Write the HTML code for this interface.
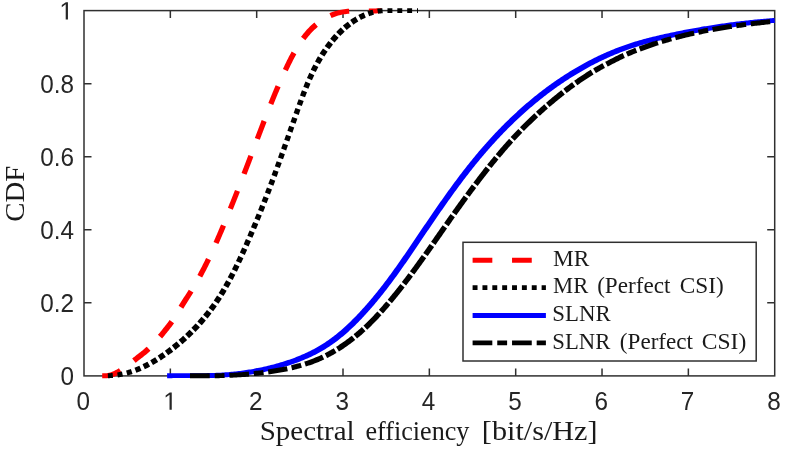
<!DOCTYPE html>
<html lang="en"><head><meta charset="utf-8"><title>CDF of spectral efficiency</title>
<style>
html,body{margin:0;padding:0;background:#fff;}
body{width:789px;height:455px;overflow:hidden;}
svg{display:block;}
.t{font-family:"Liberation Sans",sans-serif;font-size:24.3px;fill:#262626;}
.s{font-family:"Liberation Serif",serif;fill:#1a1a1a;}
.ax{stroke:#303030;stroke-width:1.5;fill:none;}
.c{fill:none;stroke-width:4.93;stroke-linejoin:round;stroke-linecap:butt;}
</style></head><body><div style="will-change:transform;width:789px;height:455px">
<svg width="789" height="455" viewBox="0 0 789 455">
<defs><filter id="noop" filterUnits="userSpaceOnUse" x="0" y="0" width="789" height="455"><feOffset dx="0" dy="0"/></filter></defs>
<rect x="0" y="0" width="789" height="455" fill="#ffffff"/>
<rect class="ax" x="84.0" y="10.6" width="690.70" height="365.30"/>
<path class="ax" d="M170.34 375.9 V368.40 M170.34 10.6 V18.10 M256.68 375.9 V368.40 M256.68 10.6 V18.10 M343.01 375.9 V368.40 M343.01 10.6 V18.10 M429.35 375.9 V368.40 M429.35 10.6 V18.10 M515.69 375.9 V368.40 M515.69 10.6 V18.10 M602.03 375.9 V368.40 M602.03 10.6 V18.10 M688.36 375.9 V368.40 M688.36 10.6 V18.10 M84.0 302.84 H91.50 M774.7 302.84 H767.20 M84.0 229.78 H91.50 M774.7 229.78 H767.20 M84.0 156.72 H91.50 M774.7 156.72 H767.20 M84.0 83.66 H91.50 M774.7 83.66 H767.20"/>
<g filter="url(#noop)">
<text class="t" transform="translate(83.20 410.35) scale(1 1.035)" text-anchor="middle">0</text>
<path fill="#262626" d="M169.53 409.85 L169.53 394.71 L165.64 397.48 L165.64 395.40 L169.72 392.60 L171.75 392.60 L171.75 409.85Z"/>
<text class="t" transform="translate(255.88 410.35) scale(1 1.035)" text-anchor="middle">2</text>
<text class="t" transform="translate(342.21 410.35) scale(1 1.035)" text-anchor="middle">3</text>
<text class="t" transform="translate(428.55 410.35) scale(1 1.035)" text-anchor="middle">4</text>
<text class="t" transform="translate(514.89 410.35) scale(1 1.035)" text-anchor="middle">5</text>
<text class="t" transform="translate(601.23 410.35) scale(1 1.035)" text-anchor="middle">6</text>
<text class="t" transform="translate(687.56 410.35) scale(1 1.035)" text-anchor="middle">7</text>
<text class="t" transform="translate(773.90 410.35) scale(1 1.035)" text-anchor="middle">8</text>
<text class="t" transform="translate(74.1 384.75) scale(1 1.035)" text-anchor="end">0</text>
<text class="t" transform="translate(74.1 311.69) scale(1 1.035)" text-anchor="end">0.2</text>
<text class="t" transform="translate(74.1 238.63) scale(1 1.035)" text-anchor="end">0.4</text>
<text class="t" transform="translate(74.1 165.57) scale(1 1.035)" text-anchor="end">0.6</text>
<text class="t" transform="translate(74.1 92.51) scale(1 1.035)" text-anchor="end">0.8</text>
<path fill="#262626" d="M65.71 19.60 L65.71 4.32 L61.79 7.13 L61.79 5.03 L65.90 2.20 L67.95 2.20 L67.95 19.60Z"/>
<text class="s" font-size="26.6px" x="259.72" y="440.4" textLength="94.96" lengthAdjust="spacingAndGlyphs">Spectral</text>
<text class="s" font-size="26.6px" x="365.46" y="440.4" textLength="103.95" lengthAdjust="spacingAndGlyphs">efficiency</text>
<text class="s" font-size="26.6px" x="481.83" y="440.4" textLength="115.76" lengthAdjust="spacingAndGlyphs">[bit/s/Hz]</text>
<g transform="translate(24.0 0) rotate(-90)"><text class="s" font-size="26.6px" x="-221.85" y="0" textLength="56.07" lengthAdjust="spacingAndGlyphs">CDF</text></g>
</g>
<path fill="#ff0000" d="M102.20 378.16 L103.68 378.16 L105.16 378.16 L106.64 378.16 L108.49 378.09 L110.13 377.82 L111.73 377.45 L113.29 376.98 L114.81 376.43 L116.29 375.81 L117.72 375.13 L119.11 374.41 L120.46 373.65 L121.79 372.85 L118.92 368.23 L117.71 368.97 L116.50 369.68 L115.27 370.35 L114.04 370.97 L112.80 371.54 L111.55 372.05 L110.30 372.48 L109.03 372.84 L107.75 373.12 L106.64 373.23 L105.16 373.23 L103.68 373.23 L102.20 373.23Z M135.58 362.77 L136.72 361.88 L137.87 361.00 L139.02 360.11 L140.18 359.21 L141.34 358.32 L142.50 357.41 L143.65 356.50 L144.81 355.58 L145.96 354.65 L147.11 353.70 L148.25 352.74 L149.37 351.75 L150.49 350.75 L146.77 346.67 L145.72 347.62 L144.65 348.55 L143.56 349.47 L142.46 350.39 L141.35 351.29 L140.23 352.19 L139.10 353.08 L137.96 353.97 L136.81 354.86 L135.66 355.75 L134.51 356.64 L133.35 357.54 L132.19 358.44Z M162.14 338.40 L163.09 337.27 L164.03 336.13 L164.97 334.98 L165.89 333.84 L166.82 332.69 L167.73 331.54 L168.65 330.39 L169.56 329.23 L170.47 328.07 L171.37 326.89 L172.27 325.71 L173.16 324.51 L174.03 323.30 L169.58 320.10 L168.74 321.25 L167.88 322.40 L167.01 323.55 L166.12 324.69 L165.23 325.83 L164.33 326.97 L163.42 328.11 L162.52 329.25 L161.60 330.38 L160.69 331.51 L159.77 332.63 L158.85 333.74 L157.92 334.85Z M183.26 308.68 L184.02 307.44 L184.78 306.21 L185.55 304.98 L186.33 303.74 L187.11 302.51 L187.90 301.28 L188.68 300.05 L189.47 298.81 L190.26 297.58 L191.05 296.33 L191.84 295.09 L192.63 293.84 L193.41 292.59 L188.79 289.72 L188.01 290.95 L187.24 292.18 L186.46 293.41 L185.67 294.64 L184.88 295.88 L184.09 297.11 L183.30 298.35 L182.51 299.59 L181.73 300.83 L180.94 302.08 L180.16 303.34 L179.38 304.60 L178.61 305.86Z M202.15 277.50 L202.86 276.20 L203.56 274.89 L204.25 273.58 L204.94 272.27 L205.62 270.95 L206.30 269.63 L206.98 268.31 L207.65 266.99 L208.31 265.67 L208.97 264.34 L209.62 263.01 L210.27 261.68 L210.92 260.35 L206.10 258.02 L205.46 259.34 L204.82 260.65 L204.17 261.96 L203.52 263.27 L202.86 264.57 L202.20 265.88 L201.53 267.18 L200.85 268.48 L200.18 269.77 L199.49 271.06 L198.81 272.35 L198.11 273.64 L197.42 274.92Z M218.39 244.12 L218.99 242.77 L219.59 241.41 L220.18 240.05 L220.77 238.69 L221.36 237.33 L221.94 235.97 L222.52 234.61 L223.10 233.24 L223.68 231.88 L224.26 230.51 L224.83 229.15 L225.40 227.78 L225.97 226.42 L221.09 224.38 L220.52 225.74 L219.95 227.10 L219.38 228.46 L218.80 229.81 L218.23 231.17 L217.65 232.52 L217.07 233.88 L216.49 235.23 L215.90 236.58 L215.31 237.93 L214.72 239.28 L214.13 240.63 L213.54 241.97Z M232.82 209.70 L233.37 208.33 L233.92 206.95 L234.47 205.58 L235.02 204.20 L235.57 202.83 L236.12 201.45 L236.66 200.07 L237.21 198.70 L237.75 197.32 L238.30 195.94 L238.84 194.56 L239.38 193.18 L239.92 191.80 L235.02 189.88 L234.48 191.26 L233.94 192.63 L233.39 194.01 L232.85 195.38 L232.31 196.76 L231.76 198.13 L231.22 199.50 L230.67 200.88 L230.13 202.25 L229.58 203.62 L229.03 204.99 L228.48 206.36 L227.92 207.73Z M246.48 174.87 L247.01 173.48 L247.54 172.10 L248.07 170.71 L248.60 169.33 L249.13 167.95 L249.65 166.56 L250.18 165.18 L250.71 163.79 L251.24 162.41 L251.76 161.03 L252.29 159.64 L252.81 158.26 L253.34 156.87 L248.43 155.01 L247.90 156.39 L247.38 157.78 L246.85 159.16 L246.32 160.54 L245.80 161.92 L245.27 163.31 L244.74 164.69 L244.22 166.07 L243.69 167.45 L243.16 168.84 L242.63 170.22 L242.10 171.60 L241.57 172.98Z M259.78 139.85 L260.31 138.47 L260.83 137.08 L261.35 135.70 L261.88 134.32 L262.40 132.93 L262.93 131.55 L263.45 130.17 L263.98 128.78 L264.51 127.40 L265.03 126.02 L265.56 124.64 L266.09 123.26 L266.62 121.88 L261.71 119.99 L261.18 121.37 L260.65 122.76 L260.12 124.14 L259.59 125.53 L259.07 126.91 L258.54 128.30 L258.02 129.68 L257.49 131.07 L256.97 132.45 L256.44 133.84 L255.92 135.23 L255.39 136.61 L254.87 137.99Z M273.22 105.03 L273.77 103.67 L274.32 102.30 L274.88 100.93 L275.43 99.57 L275.99 98.21 L276.55 96.84 L277.11 95.48 L277.68 94.12 L278.25 92.76 L278.82 91.41 L279.39 90.05 L279.97 88.70 L280.55 87.34 L275.68 85.25 L275.10 86.62 L274.52 87.99 L273.94 89.35 L273.37 90.72 L272.80 92.09 L272.23 93.46 L271.67 94.83 L271.10 96.20 L270.54 97.57 L269.98 98.95 L269.43 100.32 L268.88 101.70 L268.32 103.07Z M287.81 71.13 L288.44 69.80 L289.06 68.48 L289.69 67.16 L290.33 65.84 L290.97 64.53 L291.62 63.22 L292.27 61.91 L292.93 60.62 L293.60 59.32 L294.27 58.03 L294.96 56.75 L295.65 55.47 L296.35 54.21 L291.63 51.58 L290.92 52.89 L290.21 54.21 L289.51 55.53 L288.82 56.85 L288.15 58.18 L287.48 59.51 L286.82 60.84 L286.16 62.18 L285.51 63.51 L284.87 64.85 L284.24 66.19 L283.61 67.53 L282.98 68.88Z M305.40 40.13 L306.25 39.00 L307.13 37.89 L308.02 36.79 L308.93 35.71 L309.85 34.64 L310.79 33.60 L311.75 32.56 L312.73 31.55 L313.72 30.56 L314.73 29.59 L315.76 28.64 L316.81 27.71 L317.87 26.80 L314.35 22.55 L313.19 23.53 L312.06 24.54 L310.94 25.56 L309.85 26.61 L308.78 27.68 L307.74 28.77 L306.71 29.87 L305.71 31.00 L304.72 32.14 L303.76 33.29 L302.82 34.46 L301.90 35.65 L300.99 36.84Z M331.58 18.08 L332.88 17.51 L334.18 16.98 L335.50 16.48 L336.83 16.03 L338.18 15.61 L339.53 15.23 L340.90 14.90 L342.28 14.60 L343.67 14.35 L345.07 14.14 L346.49 13.96 L347.91 13.81 L349.35 13.70 L349.01 8.75 L347.48 8.86 L345.95 9.00 L344.42 9.17 L342.89 9.38 L341.35 9.63 L339.82 9.92 L338.29 10.26 L336.78 10.64 L335.28 11.07 L333.79 11.55 L332.32 12.07 L330.87 12.62 L329.43 13.22Z M368.86 13.45 L370.26 13.45 L371.65 13.45 L373.05 13.45 L374.48 13.45 L375.98 13.40 L377.41 13.31 L378.85 13.20 L380.09 13.07 L381.40 13.06 L381.40 8.13 L379.92 8.13 L378.39 8.24 L377.04 8.36 L375.70 8.45 L374.41 8.52 L373.05 8.52 L371.65 8.52 L370.26 8.52 L368.86 8.52Z"/>
<path fill="#000000" d="M107.95 378.17 L109.22 378.14 L110.49 378.09 L111.76 378.03 L113.03 377.94 L112.62 372.96 L111.43 373.06 L110.24 373.14 L109.05 373.20 L107.85 373.23Z M117.92 377.41 L119.20 377.23 L120.47 377.02 L121.75 376.79 L123.01 376.55 L121.95 371.50 L120.76 371.75 L119.57 371.99 L118.38 372.20 L117.18 372.40Z M127.41 375.54 L128.70 375.20 L129.99 374.84 L131.28 374.46 L132.56 374.06 L130.89 368.99 L129.69 369.38 L128.48 369.77 L127.27 370.13 L126.06 370.47Z M136.38 372.75 L137.70 372.26 L139.00 371.75 L140.30 371.23 L141.59 370.69 L139.39 365.65 L138.17 366.18 L136.95 366.70 L135.72 367.20 L134.48 367.68Z M144.90 369.20 L146.22 368.58 L147.52 367.94 L148.82 367.29 L150.11 366.62 L147.47 361.67 L146.25 362.32 L145.01 362.96 L143.77 363.58 L142.53 364.19Z M153.02 365.04 L154.32 364.30 L155.62 363.55 L156.90 362.79 L158.18 362.01 L155.18 357.17 L153.96 357.93 L152.73 358.68 L151.49 359.41 L150.25 360.13Z M160.78 360.38 L161.81 359.72 L162.83 359.05 L163.84 358.37 L164.86 357.68 L165.86 356.99 L162.58 352.28 L161.61 352.95 L160.63 353.62 L159.65 354.28 L158.67 354.93 L157.68 355.58Z M168.24 355.32 L169.24 354.59 L170.24 353.87 L171.24 353.13 L172.23 352.39 L173.21 351.64 L169.70 347.05 L168.74 347.78 L167.78 348.50 L166.82 349.22 L165.85 349.93 L164.88 350.64Z M175.43 349.93 L176.41 349.15 L177.39 348.37 L178.36 347.59 L179.33 346.80 L180.29 346.00 L176.57 341.54 L175.64 342.32 L174.70 343.09 L173.75 343.86 L172.81 344.62 L171.85 345.37Z M182.38 344.24 L183.34 343.41 L184.29 342.58 L185.23 341.75 L186.17 340.91 L187.11 340.06 L183.18 335.76 L182.28 336.58 L181.36 337.40 L180.45 338.21 L179.52 339.02 L178.60 339.82Z M189.09 338.24 L190.01 337.37 L190.92 336.50 L191.84 335.62 L192.74 334.73 L193.64 333.84 L189.53 329.71 L188.65 330.58 L187.77 331.44 L186.89 332.29 L186.00 333.14 L185.10 333.98Z M195.53 331.94 L196.41 331.03 L197.29 330.12 L198.16 329.20 L199.03 328.27 L199.89 327.34 L195.60 323.40 L194.77 324.30 L193.92 325.20 L193.08 326.09 L192.22 326.98 L191.37 327.86Z M201.71 325.34 L202.55 324.39 L203.38 323.45 L204.21 322.49 L205.03 321.53 L205.84 320.57 L201.40 316.83 L200.60 317.76 L199.80 318.69 L199.00 319.62 L198.19 320.54 L197.37 321.45Z M207.60 318.44 L208.39 317.46 L209.18 316.49 L209.96 315.50 L210.73 314.51 L211.49 313.52 L206.90 310.00 L206.16 310.96 L205.40 311.92 L204.65 312.87 L203.88 313.82 L203.11 314.76Z M213.21 311.24 L213.95 310.24 L214.68 309.24 L215.40 308.23 L216.12 307.22 L216.83 306.21 L212.12 302.91 L211.42 303.90 L210.72 304.88 L210.01 305.85 L209.30 306.82 L208.58 307.79Z M218.51 303.76 L219.19 302.74 L219.87 301.72 L220.54 300.70 L221.20 299.67 L221.86 298.64 L217.05 295.57 L216.40 296.57 L215.75 297.57 L215.09 298.56 L214.43 299.55 L213.76 300.54Z M223.50 296.02 L224.29 294.74 L225.07 293.45 L225.84 292.16 L226.60 290.87 L221.72 287.99 L220.97 289.26 L220.21 290.52 L219.44 291.77 L218.66 293.02Z M228.21 288.08 L228.94 286.79 L229.67 285.50 L230.39 284.20 L231.10 282.90 L226.16 280.20 L225.46 281.47 L224.75 282.74 L224.03 284.01 L223.31 285.27Z M232.68 279.96 L233.36 278.67 L234.03 277.37 L234.70 276.08 L235.37 274.78 L230.40 272.23 L229.74 273.51 L229.07 274.78 L228.40 276.05 L227.72 277.32Z M236.92 271.70 L237.56 270.41 L238.20 269.12 L238.83 267.82 L239.46 266.52 L234.46 264.10 L233.83 265.38 L233.20 266.66 L232.57 267.93 L231.93 269.21Z M240.98 263.33 L241.59 262.04 L242.19 260.75 L242.79 259.46 L243.39 258.16 L238.37 255.84 L237.78 257.13 L237.18 258.40 L236.58 259.68 L235.97 260.96Z M244.89 254.89 L245.47 253.60 L246.05 252.31 L246.63 251.02 L247.20 249.72 L242.17 247.48 L241.60 248.76 L241.02 250.04 L240.44 251.32 L239.86 252.60Z M248.68 246.38 L249.25 245.10 L249.81 243.81 L250.37 242.52 L250.93 241.23 L245.90 239.04 L245.34 240.32 L244.77 241.60 L244.21 242.88 L243.65 244.16Z M252.40 237.85 L252.95 236.56 L253.50 235.27 L254.05 233.98 L254.60 232.70 L249.55 230.55 L249.01 231.83 L248.46 233.11 L247.91 234.39 L247.36 235.67Z M256.05 229.27 L256.59 227.98 L257.13 226.69 L257.67 225.41 L258.20 224.12 L253.15 222.02 L252.62 223.30 L252.08 224.58 L251.54 225.86 L251.00 227.14Z M259.64 220.65 L260.17 219.36 L260.69 218.08 L261.22 216.79 L261.74 215.50 L256.69 213.45 L256.17 214.73 L255.64 216.01 L255.12 217.28 L254.59 218.56Z M263.16 211.98 L263.68 210.70 L264.19 209.42 L264.71 208.13 L265.22 206.85 L260.16 204.83 L259.65 206.11 L259.14 207.39 L258.63 208.67 L258.11 209.95Z M266.63 203.28 L267.13 202.00 L267.63 200.72 L268.14 199.43 L268.63 198.15 L263.57 196.18 L263.08 197.46 L262.57 198.74 L262.07 200.01 L261.57 201.29Z M270.03 194.54 L270.52 193.26 L271.01 191.98 L271.50 190.70 L271.99 189.41 L266.93 187.49 L266.44 188.76 L265.95 190.04 L265.46 191.32 L264.97 192.59Z M273.37 185.77 L273.85 184.49 L274.33 183.20 L274.81 181.92 L275.28 180.64 L270.22 178.76 L269.74 180.03 L269.26 181.31 L268.78 182.58 L268.30 183.86Z M276.65 176.96 L277.12 175.68 L277.59 174.40 L278.05 173.12 L278.52 171.84 L273.45 169.98 L272.99 171.26 L272.52 172.54 L272.05 173.81 L271.58 175.09Z M279.87 168.12 L280.33 166.84 L280.80 165.56 L281.26 164.28 L281.72 163.00 L276.65 161.18 L276.19 162.46 L275.73 163.73 L275.27 165.01 L274.80 166.28Z M283.06 159.26 L283.51 157.99 L283.97 156.71 L284.42 155.43 L284.88 154.15 L279.81 152.35 L279.35 153.63 L278.90 154.90 L278.44 156.18 L277.99 157.45Z M286.21 150.40 L286.66 149.12 L287.11 147.84 L287.56 146.57 L288.01 145.29 L282.94 143.50 L282.49 144.78 L282.04 146.05 L281.59 147.33 L281.14 148.60Z M289.34 141.52 L289.79 140.25 L290.24 138.97 L290.69 137.69 L291.13 136.42 L286.06 134.64 L285.62 135.91 L285.17 137.19 L284.72 138.46 L284.27 139.74Z M292.46 132.65 L292.91 131.37 L293.36 130.10 L293.80 128.82 L294.25 127.55 L289.18 125.76 L288.73 127.04 L288.28 128.31 L287.84 129.59 L287.39 130.86Z M295.58 123.78 L296.03 122.50 L296.48 121.23 L296.93 119.95 L297.38 118.68 L292.30 116.89 L291.85 118.16 L291.41 119.44 L290.96 120.72 L290.51 121.99Z M298.70 114.92 L299.16 113.64 L299.61 112.37 L300.06 111.09 L300.51 109.82 L295.44 108.01 L294.99 109.29 L294.54 110.57 L294.09 111.84 L293.63 113.12Z M301.85 106.08 L302.31 104.81 L302.77 103.54 L303.23 102.26 L303.70 100.99 L298.63 99.14 L298.17 100.42 L297.70 101.70 L297.24 102.98 L296.78 104.26Z M305.06 97.33 L305.54 96.06 L306.03 94.79 L306.51 93.52 L307.01 92.25 L301.95 90.29 L301.45 91.57 L300.96 92.86 L300.48 94.15 L300.00 95.44Z M308.41 88.72 L308.92 87.44 L309.45 86.17 L309.97 84.91 L310.51 83.64 L305.46 81.51 L304.93 82.81 L304.40 84.10 L303.87 85.39 L303.35 86.69Z M311.96 80.29 L312.53 79.01 L313.10 77.74 L313.69 76.48 L314.28 75.22 L309.26 72.87 L308.67 74.17 L308.08 75.47 L307.50 76.77 L306.93 78.08Z M315.79 72.09 L316.42 70.82 L317.06 69.55 L317.71 68.30 L318.37 67.04 L313.41 64.43 L312.74 65.73 L312.08 67.03 L311.43 68.34 L310.79 69.65Z M319.93 64.17 L320.64 62.91 L321.36 61.66 L322.09 60.41 L322.83 59.17 L317.97 56.25 L317.21 57.54 L316.46 58.84 L315.72 60.14 L315.00 61.46Z M324.44 56.57 L325.07 55.58 L325.72 54.59 L326.37 53.60 L327.03 52.62 L327.69 51.65 L322.96 48.40 L322.27 49.42 L321.59 50.44 L320.92 51.47 L320.26 52.51 L319.61 53.55Z M329.34 49.32 L330.05 48.35 L330.76 47.38 L331.49 46.42 L332.22 45.47 L332.96 44.53 L328.41 40.94 L327.64 41.93 L326.88 42.93 L326.13 43.93 L325.39 44.94 L324.66 45.96Z M334.66 42.44 L335.43 41.51 L336.22 40.58 L337.02 39.67 L337.83 38.76 L338.64 37.87 L334.35 33.93 L333.49 34.87 L332.65 35.83 L331.81 36.79 L330.99 37.76 L330.18 38.74Z M340.42 35.98 L341.26 35.11 L342.12 34.25 L342.99 33.41 L343.86 32.57 L344.75 31.74 L340.81 27.45 L339.86 28.33 L338.94 29.21 L338.02 30.11 L337.11 31.02 L336.22 31.94Z M346.67 30.01 L347.58 29.24 L348.49 28.47 L349.42 27.71 L350.35 26.97 L351.29 26.24 L347.82 21.63 L346.80 22.40 L345.80 23.19 L344.81 23.98 L343.83 24.80 L342.86 25.62Z M353.49 24.63 L354.67 23.81 L355.87 23.01 L357.08 22.24 L358.30 21.49 L355.43 16.60 L354.09 17.39 L352.78 18.21 L351.48 19.05 L350.20 19.92Z M360.96 19.97 L362.16 19.34 L363.36 18.73 L364.58 18.15 L365.81 17.60 L363.69 12.55 L362.33 13.12 L360.99 13.72 L359.66 14.35 L358.35 15.01Z M369.16 16.25 L370.34 15.84 L371.53 15.45 L372.72 15.08 L373.92 14.75 L372.65 9.68 L371.32 10.01 L370.00 10.37 L368.69 10.76 L367.39 11.18Z M378.07 13.82 L379.25 13.61 L380.43 13.43 L381.63 13.27 L382.80 13.13 L382.34 8.15 L381.05 8.28 L379.77 8.42 L378.49 8.59 L377.21 8.79Z M387.46 13.06 L388.69 13.06 L389.92 13.06 L391.16 13.06 L392.39 13.06 L392.39 8.13 L391.16 8.13 L389.92 8.13 L388.69 8.13 L387.46 8.13Z M397.32 13.06 L398.55 13.06 L399.78 13.06 L401.02 13.06 L402.25 13.06 L402.25 8.13 L401.02 8.13 L399.78 8.13 L398.55 8.13 L397.32 8.13Z M407.18 13.06 L408.41 13.06 L409.64 13.06 L410.88 13.06 L412.11 13.06 L412.11 8.13 L410.88 8.13 L409.64 8.13 L408.41 8.13 L407.18 8.13Z M417.04 13.06 L418.00 13.06 L418.00 8.13 L417.04 8.13Z"/>
<path fill="#0000ff" d="M167.13 378.17 L168.62 378.15 L170.12 378.14 L171.61 378.13 L173.11 378.12 L174.60 378.12 L176.10 378.12 L177.60 378.12 L179.09 378.12 L180.59 378.12 L182.09 378.12 L183.59 378.12 L185.09 378.12 L186.59 378.12 L188.09 378.12 L189.59 378.12 L191.09 378.12 L192.59 378.12 L194.09 378.12 L195.59 378.12 L197.09 378.12 L198.59 378.12 L200.08 378.12 L201.58 378.12 L203.10 378.11 L204.62 378.10 L206.12 378.08 L207.63 378.05 L209.13 378.02 L210.64 377.99 L212.15 377.95 L213.66 377.90 L215.16 377.85 L216.67 377.80 L218.18 377.73 L219.69 377.67 L221.20 377.59 L222.71 377.51 L224.22 377.42 L225.73 377.32 L227.24 377.22 L228.74 377.11 L230.25 376.98 L231.76 376.86 L233.27 376.72 L234.77 376.57 L236.28 376.42 L237.78 376.26 L239.29 376.09 L240.79 375.91 L242.29 375.72 L243.79 375.53 L245.29 375.32 L246.79 375.11 L248.29 374.89 L249.78 374.66 L251.28 374.43 L252.77 374.18 L254.27 373.93 L255.76 373.67 L257.25 373.40 L258.73 373.12 L260.22 372.83 L261.71 372.53 L263.19 372.23 L264.67 371.92 L266.15 371.59 L267.63 371.26 L269.11 370.92 L270.58 370.58 L272.05 370.22 L273.52 369.85 L274.99 369.48 L276.46 369.10 L277.92 368.70 L279.38 368.30 L280.84 367.89 L282.30 367.47 L283.75 367.05 L285.21 366.61 L286.66 366.16 L288.10 365.70 L289.55 365.24 L290.99 364.76 L292.43 364.27 L293.86 363.77 L295.30 363.26 L296.73 362.74 L298.15 362.21 L299.57 361.67 L300.99 361.11 L302.40 360.54 L303.81 359.96 L305.21 359.37 L306.61 358.77 L308.01 358.15 L309.40 357.52 L310.78 356.88 L312.16 356.23 L313.53 355.56 L314.90 354.88 L316.26 354.18 L317.61 353.47 L318.95 352.75 L320.29 352.01 L321.63 351.26 L322.95 350.50 L324.27 349.72 L325.57 348.92 L326.87 348.12 L328.17 347.29 L329.45 346.46 L330.72 345.61 L331.99 344.74 L333.24 343.86 L334.48 342.97 L335.72 342.07 L336.94 341.15 L338.15 340.22 L339.35 339.28 L340.55 338.33 L341.73 337.37 L342.91 336.39 L344.07 335.41 L345.23 334.42 L346.38 333.42 L347.52 332.41 L348.65 331.40 L349.77 330.37 L350.89 329.34 L352.00 328.30 L353.10 327.25 L354.19 326.20 L355.28 325.14 L356.35 324.07 L357.43 323.00 L358.49 321.92 L359.55 320.83 L360.60 319.74 L361.65 318.65 L362.69 317.55 L363.72 316.45 L364.75 315.34 L365.78 314.22 L366.80 313.10 L367.81 311.98 L368.82 310.85 L369.82 309.72 L370.82 308.59 L371.81 307.45 L372.80 306.30 L373.78 305.15 L374.76 304.00 L375.74 302.85 L376.71 301.69 L377.67 300.52 L378.63 299.36 L379.58 298.19 L380.53 297.01 L381.48 295.84 L382.42 294.66 L383.36 293.47 L384.29 292.29 L385.22 291.10 L386.15 289.91 L387.07 288.71 L387.98 287.51 L388.90 286.32 L389.81 285.11 L390.71 283.91 L391.62 282.70 L392.52 281.49 L393.41 280.28 L394.31 279.07 L395.20 277.85 L396.08 276.63 L396.97 275.41 L397.85 274.19 L398.72 272.97 L399.60 271.74 L400.47 270.52 L401.34 269.29 L402.21 268.06 L403.08 266.83 L403.94 265.60 L404.80 264.36 L405.66 263.13 L406.52 261.90 L407.37 260.66 L408.23 259.42 L409.08 258.18 L409.93 256.95 L410.78 255.71 L411.62 254.47 L412.47 253.23 L413.32 251.98 L414.16 250.74 L415.00 249.50 L415.85 248.26 L416.69 247.02 L417.53 245.77 L418.37 244.53 L419.21 243.29 L420.05 242.05 L420.89 240.80 L421.73 239.56 L422.57 238.32 L423.41 237.08 L424.25 235.84 L425.09 234.59 L425.93 233.35 L426.77 232.11 L427.61 230.87 L428.45 229.63 L429.29 228.39 L430.13 227.15 L430.98 225.92 L431.82 224.68 L432.66 223.44 L433.51 222.20 L434.35 220.97 L435.20 219.73 L436.05 218.50 L436.89 217.27 L437.74 216.03 L438.59 214.80 L439.44 213.57 L440.30 212.34 L441.15 211.11 L442.00 209.88 L442.86 208.66 L443.72 207.43 L444.58 206.20 L445.44 204.98 L446.30 203.76 L447.16 202.54 L448.03 201.32 L448.89 200.10 L449.76 198.88 L450.63 197.67 L451.50 196.45 L452.37 195.24 L453.25 194.03 L454.13 192.82 L455.01 191.61 L455.89 190.40 L456.77 189.20 L457.66 187.99 L458.54 186.79 L459.43 185.59 L460.33 184.39 L461.22 183.20 L462.12 182.00 L463.02 180.81 L463.92 179.62 L464.82 178.43 L465.73 177.25 L466.64 176.07 L467.55 174.88 L468.46 173.70 L469.38 172.53 L470.30 171.35 L471.22 170.18 L472.15 169.01 L473.08 167.84 L474.01 166.68 L474.95 165.52 L475.88 164.36 L476.82 163.20 L477.77 162.05 L478.72 160.90 L479.67 159.75 L480.62 158.60 L481.58 157.46 L482.54 156.32 L483.50 155.18 L484.47 154.05 L485.44 152.92 L486.41 151.79 L487.39 150.67 L488.37 149.55 L489.36 148.43 L490.34 147.31 L491.34 146.20 L492.33 145.09 L493.33 143.99 L494.33 142.88 L495.34 141.79 L496.35 140.69 L497.36 139.60 L498.38 138.51 L499.40 137.42 L500.42 136.34 L501.45 135.26 L502.48 134.19 L503.51 133.12 L504.55 132.05 L505.59 130.99 L506.64 129.93 L507.69 128.87 L508.74 127.82 L509.80 126.77 L510.86 125.73 L511.92 124.68 L512.99 123.65 L514.06 122.61 L515.14 121.58 L516.21 120.56 L517.30 119.54 L518.38 118.52 L519.47 117.51 L520.57 116.50 L521.66 115.49 L522.77 114.49 L523.87 113.50 L524.98 112.51 L526.09 111.52 L527.21 110.53 L528.33 109.56 L529.45 108.58 L530.58 107.61 L531.71 106.64 L532.85 105.68 L533.99 104.73 L535.13 103.78 L536.28 102.83 L537.43 101.89 L538.58 100.95 L539.74 100.01 L540.90 99.09 L542.07 98.16 L543.23 97.24 L544.41 96.33 L545.58 95.42 L546.76 94.52 L547.95 93.62 L549.14 92.72 L550.33 91.83 L551.52 90.95 L552.72 90.07 L553.93 89.20 L555.13 88.33 L556.34 87.47 L557.56 86.61 L558.77 85.76 L560.00 84.91 L561.22 84.07 L562.45 83.23 L563.68 82.40 L564.92 81.58 L566.16 80.76 L567.40 79.94 L568.65 79.13 L569.90 78.33 L571.15 77.54 L572.41 76.75 L573.67 75.96 L574.94 75.18 L576.21 74.41 L577.48 73.64 L578.76 72.88 L580.03 72.13 L581.32 71.38 L582.60 70.64 L583.90 69.90 L585.19 69.17 L586.49 68.45 L587.79 67.73 L589.09 67.02 L590.40 66.32 L591.71 65.62 L593.03 64.93 L594.34 64.25 L595.67 63.57 L596.99 62.90 L598.32 62.24 L599.65 61.59 L600.99 60.94 L602.32 60.30 L603.67 59.66 L605.01 59.03 L606.36 58.41 L607.71 57.80 L609.07 57.20 L610.42 56.60 L611.79 56.01 L613.15 55.42 L614.52 54.85 L615.89 54.28 L617.26 53.72 L618.64 53.17 L620.02 52.62 L621.40 52.09 L622.79 51.56 L624.18 51.04 L625.57 50.53 L626.97 50.02 L628.36 49.53 L629.76 49.04 L631.17 48.56 L632.57 48.09 L633.98 47.63 L635.40 47.18 L636.81 46.73 L638.23 46.29 L639.65 45.86 L641.08 45.44 L642.50 45.03 L643.93 44.62 L645.37 44.22 L646.80 43.82 L648.24 43.43 L649.67 43.05 L651.11 42.67 L652.56 42.30 L654.00 41.94 L655.45 41.58 L656.89 41.22 L658.34 40.87 L659.79 40.53 L661.25 40.19 L662.70 39.85 L664.15 39.52 L665.61 39.19 L667.07 38.86 L668.53 38.54 L669.99 38.22 L671.45 37.91 L672.91 37.59 L674.37 37.28 L675.83 36.98 L677.29 36.67 L678.76 36.37 L680.22 36.07 L681.69 35.77 L683.15 35.48 L684.62 35.19 L686.08 34.90 L687.55 34.62 L689.02 34.34 L690.49 34.06 L691.96 33.78 L693.42 33.51 L694.89 33.24 L696.36 32.97 L697.84 32.70 L699.31 32.44 L700.78 32.18 L702.25 31.92 L703.72 31.67 L705.20 31.42 L706.67 31.17 L708.14 30.93 L709.62 30.68 L711.09 30.44 L712.57 30.21 L714.05 29.97 L715.52 29.74 L717.00 29.51 L718.48 29.29 L719.95 29.07 L721.43 28.85 L722.91 28.63 L724.39 28.41 L725.87 28.20 L727.35 28.00 L728.83 27.79 L730.31 27.59 L731.79 27.39 L733.27 27.19 L734.75 27.00 L736.24 26.81 L737.72 26.62 L739.20 26.43 L740.68 26.25 L742.17 26.07 L743.65 25.90 L745.14 25.72 L746.62 25.55 L748.11 25.38 L749.59 25.22 L751.08 25.06 L752.56 24.90 L754.05 24.74 L755.53 24.59 L757.02 24.44 L758.51 24.30 L760.00 24.15 L761.48 24.01 L762.97 23.87 L764.46 23.74 L765.95 23.61 L767.44 23.48 L768.93 23.36 L770.41 23.23 L771.90 23.11 L773.39 23.00 L774.88 22.89 L774.52 17.91 L773.02 18.02 L771.52 18.14 L770.02 18.26 L768.52 18.38 L767.02 18.50 L765.52 18.63 L764.02 18.76 L762.52 18.89 L761.02 19.02 L759.52 19.16 L758.03 19.30 L756.53 19.45 L755.03 19.60 L753.53 19.75 L752.04 19.90 L750.54 20.06 L749.05 20.22 L747.55 20.38 L746.06 20.55 L744.56 20.72 L743.07 20.89 L741.57 21.06 L740.08 21.24 L738.59 21.42 L737.09 21.61 L735.60 21.79 L734.11 21.98 L732.62 22.17 L731.12 22.37 L729.63 22.57 L728.14 22.77 L726.65 22.97 L725.16 23.18 L723.67 23.39 L722.18 23.60 L720.69 23.82 L719.21 24.03 L717.72 24.25 L716.23 24.48 L714.74 24.71 L713.26 24.94 L711.77 25.17 L710.29 25.40 L708.80 25.64 L707.32 25.88 L705.83 26.13 L704.35 26.37 L702.86 26.62 L701.38 26.87 L699.90 27.13 L698.42 27.39 L696.93 27.65 L695.45 27.91 L693.97 28.18 L692.49 28.45 L691.01 28.72 L689.54 29.00 L688.06 29.27 L686.58 29.55 L685.10 29.84 L683.62 30.12 L682.15 30.41 L680.67 30.71 L679.20 31.00 L677.72 31.30 L676.25 31.60 L674.78 31.90 L673.30 32.21 L671.83 32.52 L670.36 32.83 L668.89 33.15 L667.42 33.46 L665.95 33.78 L664.48 34.11 L663.01 34.44 L661.54 34.77 L660.07 35.10 L658.60 35.44 L657.13 35.78 L655.67 36.13 L654.20 36.49 L652.73 36.84 L651.27 37.21 L649.81 37.58 L648.34 37.95 L646.88 38.33 L645.42 38.72 L643.96 39.11 L642.50 39.51 L641.05 39.92 L639.59 40.33 L638.14 40.75 L636.69 41.18 L635.24 41.62 L633.79 42.06 L632.35 42.51 L630.90 42.98 L629.46 43.45 L628.02 43.92 L626.59 44.41 L625.16 44.91 L623.73 45.41 L622.30 45.92 L620.88 46.44 L619.46 46.97 L618.04 47.51 L616.63 48.06 L615.22 48.61 L613.81 49.17 L612.41 49.74 L611.01 50.32 L609.61 50.91 L608.22 51.50 L606.83 52.10 L605.44 52.71 L604.06 53.33 L602.68 53.95 L601.30 54.59 L599.93 55.22 L598.56 55.87 L597.19 56.52 L595.83 57.19 L594.47 57.85 L593.12 58.53 L591.77 59.21 L590.42 59.90 L589.07 60.60 L587.73 61.30 L586.40 62.01 L585.06 62.73 L583.73 63.45 L582.41 64.18 L581.09 64.92 L579.77 65.66 L578.45 66.41 L577.14 67.17 L575.84 67.93 L574.53 68.70 L573.23 69.48 L571.94 70.26 L570.65 71.04 L569.36 71.84 L568.07 72.64 L566.79 73.44 L565.52 74.26 L564.24 75.07 L562.98 75.90 L561.71 76.73 L560.45 77.56 L559.19 78.40 L557.94 79.25 L556.69 80.10 L555.44 80.96 L554.20 81.82 L552.97 82.69 L551.73 83.57 L550.50 84.45 L549.28 85.33 L548.05 86.22 L546.84 87.12 L545.62 88.02 L544.41 88.93 L543.21 89.84 L542.00 90.76 L540.81 91.68 L539.61 92.60 L538.42 93.54 L537.24 94.47 L536.05 95.41 L534.87 96.36 L533.70 97.31 L532.53 98.27 L531.36 99.23 L530.20 100.19 L529.04 101.16 L527.89 102.14 L526.74 103.12 L525.59 104.10 L524.45 105.09 L523.31 106.08 L522.17 107.08 L521.04 108.08 L519.92 109.09 L518.79 110.10 L517.67 111.12 L516.56 112.14 L515.45 113.16 L514.34 114.19 L513.24 115.22 L512.14 116.25 L511.04 117.29 L509.95 118.34 L508.87 119.39 L507.78 120.44 L506.70 121.49 L505.63 122.55 L504.56 123.62 L503.49 124.69 L502.42 125.76 L501.36 126.83 L500.31 127.91 L499.25 128.99 L498.21 130.08 L497.16 131.17 L496.12 132.26 L495.08 133.36 L494.05 134.46 L493.02 135.56 L492.00 136.67 L490.97 137.78 L489.95 138.89 L488.94 140.01 L487.93 141.13 L486.92 142.25 L485.92 143.38 L484.92 144.51 L483.92 145.64 L482.93 146.78 L481.94 147.92 L480.96 149.06 L479.98 150.21 L479.00 151.36 L478.02 152.51 L477.05 153.66 L476.08 154.82 L475.12 155.98 L474.16 157.14 L473.20 158.31 L472.25 159.47 L471.30 160.65 L470.35 161.82 L469.41 162.99 L468.47 164.17 L467.53 165.35 L466.60 166.53 L465.67 167.72 L464.74 168.91 L463.82 170.10 L462.89 171.29 L461.98 172.48 L461.06 173.68 L460.15 174.87 L459.24 176.07 L458.33 177.27 L457.42 178.48 L456.52 179.68 L455.62 180.89 L454.72 182.10 L453.83 183.31 L452.93 184.52 L452.04 185.73 L451.16 186.94 L450.27 188.16 L449.39 189.38 L448.50 190.60 L447.62 191.82 L446.75 193.04 L445.87 194.26 L445.00 195.48 L444.13 196.71 L443.26 197.94 L442.39 199.16 L441.52 200.39 L440.66 201.62 L439.79 202.85 L438.93 204.08 L438.07 205.31 L437.21 206.55 L436.36 207.78 L435.50 209.02 L434.64 210.25 L433.79 211.49 L432.94 212.72 L432.09 213.96 L431.24 215.20 L430.39 216.44 L429.54 217.68 L428.69 218.92 L427.85 220.16 L427.00 221.40 L426.16 222.64 L425.31 223.88 L424.47 225.12 L423.63 226.36 L422.79 227.60 L421.94 228.85 L421.10 230.09 L420.26 231.33 L419.42 232.57 L418.58 233.82 L417.74 235.06 L416.90 236.30 L416.06 237.54 L415.23 238.79 L414.39 240.03 L413.55 241.27 L412.71 242.51 L411.87 243.75 L411.03 244.99 L410.18 246.23 L409.34 247.47 L408.50 248.70 L407.66 249.94 L406.81 251.18 L405.97 252.41 L405.12 253.65 L404.27 254.88 L403.42 256.11 L402.57 257.34 L401.72 258.57 L400.87 259.80 L400.01 261.02 L399.15 262.25 L398.30 263.47 L397.43 264.69 L396.57 265.91 L395.71 267.13 L394.84 268.34 L393.97 269.56 L393.10 270.77 L392.22 271.98 L391.34 273.19 L390.46 274.39 L389.58 275.59 L388.70 276.80 L387.81 277.99 L386.92 279.19 L386.02 280.38 L385.12 281.57 L384.22 282.76 L383.32 283.94 L382.41 285.13 L381.50 286.30 L380.58 287.48 L379.66 288.65 L378.74 289.82 L377.81 290.99 L376.88 292.15 L375.95 293.31 L375.01 294.46 L374.07 295.61 L373.12 296.76 L372.17 297.91 L371.21 299.05 L370.25 300.18 L369.29 301.32 L368.32 302.44 L367.35 303.57 L366.37 304.69 L365.39 305.80 L364.40 306.92 L363.41 308.02 L362.41 309.12 L361.41 310.22 L360.40 311.31 L359.39 312.40 L358.38 313.48 L357.35 314.56 L356.33 315.64 L355.30 316.70 L354.26 317.76 L353.22 318.82 L352.17 319.87 L351.12 320.91 L350.06 321.94 L348.99 322.97 L347.92 323.99 L346.85 325.01 L345.76 326.01 L344.67 327.01 L343.57 328.00 L342.47 328.98 L341.36 329.95 L340.24 330.91 L339.12 331.87 L337.98 332.81 L336.84 333.74 L335.70 334.66 L334.54 335.57 L333.38 336.47 L332.21 337.36 L331.03 338.24 L329.84 339.10 L328.64 339.95 L327.44 340.79 L326.22 341.62 L325.00 342.43 L323.77 343.23 L322.53 344.01 L321.28 344.79 L320.02 345.55 L318.76 346.29 L317.49 347.03 L316.21 347.75 L314.92 348.46 L313.62 349.15 L312.32 349.84 L311.01 350.51 L309.69 351.17 L308.37 351.81 L307.04 352.45 L305.70 353.07 L304.36 353.68 L303.01 354.28 L301.66 354.86 L300.30 355.44 L298.93 356.00 L297.56 356.55 L296.19 357.10 L294.81 357.63 L293.43 358.15 L292.04 358.65 L290.65 359.15 L289.25 359.64 L287.85 360.12 L286.44 360.59 L285.04 361.04 L283.62 361.49 L282.21 361.93 L280.79 362.36 L279.37 362.78 L277.94 363.19 L276.52 363.60 L275.09 363.99 L273.66 364.38 L272.22 364.76 L270.78 365.12 L269.34 365.48 L267.90 365.83 L266.46 366.18 L265.01 366.51 L263.56 366.84 L262.11 367.15 L260.66 367.46 L259.21 367.76 L257.75 368.05 L256.30 368.34 L254.84 368.61 L253.38 368.88 L251.91 369.13 L250.45 369.38 L248.99 369.62 L247.52 369.86 L246.05 370.08 L244.58 370.30 L243.11 370.51 L241.64 370.71 L240.17 370.90 L238.69 371.08 L237.22 371.25 L235.74 371.42 L234.26 371.58 L232.79 371.73 L231.31 371.87 L229.83 372.00 L228.35 372.13 L226.87 372.25 L225.39 372.35 L223.90 372.45 L222.42 372.55 L220.93 372.63 L219.45 372.71 L217.96 372.78 L216.47 372.85 L214.99 372.91 L213.50 372.96 L212.01 373.00 L210.52 373.05 L209.03 373.08 L207.53 373.11 L206.04 373.14 L204.55 373.16 L203.06 373.18 L201.58 373.19 L200.08 373.19 L198.59 373.19 L197.09 373.19 L195.59 373.19 L194.09 373.19 L192.59 373.19 L191.09 373.19 L189.59 373.19 L188.09 373.19 L186.59 373.19 L185.09 373.19 L183.59 373.19 L182.09 373.19 L180.59 373.19 L179.09 373.19 L177.60 373.19 L176.10 373.19 L174.59 373.19 L173.09 373.19 L171.59 373.20 L170.08 373.21 L168.58 373.22 L167.07 373.23Z"/>
<path fill="#000000" d="M190.00 378.16 L191.41 378.16 L192.82 378.16 L194.23 378.16 L195.63 378.16 L197.04 378.16 L198.45 378.16 L199.86 378.16 L201.27 378.16 L202.68 378.16 L204.09 378.16 L205.49 378.16 L206.90 378.16 L208.31 378.16 L209.72 378.16 L209.72 373.23 L208.31 373.23 L206.90 373.23 L205.49 373.23 L204.09 373.23 L202.68 373.23 L201.27 373.23 L199.86 373.23 L198.45 373.23 L197.04 373.23 L195.63 373.23 L194.23 373.23 L192.82 373.23 L191.41 373.23 L190.00 373.23Z M214.65 378.16 L216.06 378.16 L217.47 378.16 L218.92 378.16 L220.35 378.12 L221.76 378.09 L223.17 378.04 L224.59 378.00 L224.42 373.06 L223.02 373.11 L221.62 373.15 L220.22 373.19 L218.82 373.22 L217.47 373.23 L216.06 373.23 L214.65 373.23Z M229.51 377.81 L230.92 377.75 L232.32 377.68 L233.73 377.61 L235.14 377.54 L236.55 377.46 L237.95 377.37 L239.36 377.29 L240.77 377.20 L242.18 377.10 L243.58 377.00 L244.99 376.90 L246.39 376.79 L247.80 376.67 L249.21 376.56 L248.78 371.60 L247.39 371.72 L246.00 371.84 L244.61 371.95 L243.22 372.05 L241.83 372.15 L240.44 372.25 L239.05 372.34 L237.65 372.43 L236.26 372.51 L234.87 372.59 L233.48 372.67 L232.08 372.74 L230.69 372.81 L229.29 372.87Z M254.02 376.12 L255.42 375.98 L256.83 375.83 L258.23 375.68 L259.63 375.53 L261.04 375.37 L262.44 375.21 L263.84 375.03 L263.22 370.07 L261.84 370.24 L260.46 370.41 L259.07 370.57 L257.69 370.72 L256.30 370.87 L254.92 371.02 L253.53 371.16Z M268.53 374.43 L270.02 374.22 L271.51 374.00 L273.00 373.78 L274.49 373.56 L275.98 373.32 L277.47 373.08 L278.96 372.83 L280.44 372.57 L281.93 372.30 L283.41 372.03 L284.90 371.74 L286.38 371.45 L287.86 371.15 L286.81 366.17 L285.37 366.48 L283.92 366.77 L282.47 367.05 L281.01 367.33 L279.56 367.60 L278.10 367.86 L276.64 368.11 L275.18 368.35 L273.71 368.59 L272.25 368.81 L270.78 369.04 L269.31 369.25 L267.84 369.46Z M292.17 370.21 L293.57 369.88 L294.96 369.54 L296.36 369.20 L297.75 368.84 L299.14 368.48 L300.53 368.10 L301.92 367.71 L300.49 362.75 L299.14 363.13 L297.80 363.51 L296.45 363.87 L295.09 364.23 L293.74 364.57 L292.38 364.91 L291.01 365.23Z M305.81 366.55 L307.25 366.09 L308.69 365.62 L310.13 365.14 L311.56 364.64 L312.99 364.13 L314.41 363.60 L315.83 363.06 L317.24 362.50 L318.65 361.93 L320.05 361.34 L321.44 360.73 L322.83 360.11 L324.21 359.48 L321.93 354.65 L320.61 355.27 L319.28 355.88 L317.95 356.47 L316.60 357.05 L315.26 357.61 L313.90 358.16 L312.54 358.69 L311.17 359.21 L309.80 359.71 L308.42 360.21 L307.03 360.68 L305.64 361.15 L304.25 361.60Z M327.12 358.07 L328.32 357.47 L329.51 356.85 L330.70 356.23 L331.88 355.59 L333.06 354.94 L334.23 354.28 L335.39 353.61 L336.55 352.93 L333.76 348.27 L332.65 348.94 L331.53 349.59 L330.41 350.23 L329.28 350.86 L328.15 351.48 L327.01 352.09 L325.87 352.69 L324.72 353.28Z M338.93 351.49 L340.14 350.73 L341.35 349.96 L342.55 349.18 L343.74 348.39 L344.92 347.59 L346.10 346.78 L347.27 345.95 L348.44 345.12 L349.59 344.28 L350.74 343.43 L351.88 342.57 L353.02 341.71 L354.15 340.83 L355.27 339.95 L351.83 335.64 L350.75 336.50 L349.66 337.35 L348.56 338.20 L347.45 339.03 L346.34 339.86 L345.22 340.68 L344.10 341.49 L342.97 342.28 L341.83 343.07 L340.69 343.85 L339.54 344.62 L338.38 345.38 L337.22 346.13 L336.05 346.87Z M357.11 338.46 L358.18 337.58 L359.25 336.69 L360.32 335.78 L361.37 334.88 L362.42 333.96 L363.47 333.04 L364.50 332.11 L365.53 331.18 L361.81 327.10 L360.80 328.01 L359.79 328.91 L358.78 329.81 L357.76 330.70 L356.73 331.59 L355.70 332.47 L354.66 333.33 L353.62 334.20Z M367.20 329.64 L368.26 328.65 L369.31 327.65 L370.35 326.64 L371.39 325.63 L372.42 324.61 L373.45 323.59 L374.47 322.56 L375.48 321.53 L376.49 320.49 L377.49 319.44 L378.49 318.40 L379.48 317.34 L380.46 316.28 L381.44 315.22 L377.37 311.48 L376.41 312.53 L375.44 313.57 L374.47 314.60 L373.49 315.63 L372.51 316.65 L371.52 317.67 L370.53 318.68 L369.53 319.69 L368.53 320.69 L367.52 321.68 L366.51 322.67 L365.49 323.65 L364.46 324.63 L363.43 325.60Z M383.02 313.49 L383.96 312.44 L384.89 311.39 L385.83 310.33 L386.75 309.28 L387.68 308.21 L388.60 307.15 L389.51 306.08 L390.42 305.01 L386.22 301.44 L385.32 302.50 L384.41 303.55 L383.51 304.60 L382.60 305.64 L381.68 306.68 L380.76 307.72 L379.84 308.75 L378.92 309.78Z M391.96 303.18 L392.89 302.07 L393.82 300.95 L394.74 299.83 L395.66 298.71 L396.57 297.59 L397.48 296.46 L398.39 295.34 L399.29 294.20 L400.19 293.07 L401.09 291.94 L401.99 290.80 L402.88 289.66 L403.77 288.52 L404.66 287.38 L400.31 284.01 L399.43 285.14 L398.55 286.27 L397.66 287.40 L396.77 288.52 L395.88 289.65 L394.99 290.77 L394.09 291.89 L393.19 293.00 L392.29 294.12 L391.39 295.23 L390.48 296.34 L389.57 297.44 L388.65 298.54 L387.73 299.64Z M406.17 285.42 L407.02 284.31 L407.86 283.21 L408.70 282.10 L409.54 280.99 L410.38 279.88 L411.22 278.77 L412.05 277.65 L412.88 276.54 L408.48 273.26 L407.65 274.36 L406.82 275.47 L405.99 276.57 L405.16 277.67 L404.33 278.78 L403.49 279.87 L402.65 280.97 L401.81 282.07Z M414.39 274.51 L415.25 273.35 L416.10 272.19 L416.95 271.03 L417.80 269.86 L418.65 268.70 L419.50 267.53 L420.35 266.37 L421.19 265.20 L422.04 264.03 L422.88 262.86 L423.72 261.69 L424.55 260.51 L425.39 259.34 L426.23 258.17 L421.76 254.99 L420.93 256.16 L420.09 257.33 L419.26 258.49 L418.42 259.66 L417.58 260.82 L416.75 261.99 L415.90 263.15 L415.06 264.31 L414.22 265.47 L413.37 266.63 L412.53 267.78 L411.68 268.94 L410.83 270.09 L409.97 271.25Z M427.72 256.06 L428.52 254.93 L429.32 253.80 L430.11 252.68 L430.91 251.55 L431.70 250.42 L432.50 249.29 L433.29 248.16 L434.08 247.03 L429.60 243.88 L428.81 245.01 L428.02 246.14 L427.22 247.27 L426.43 248.39 L425.64 249.52 L424.84 250.64 L424.05 251.77 L423.25 252.89Z M435.58 244.89 L436.40 243.72 L437.22 242.54 L438.05 241.36 L438.87 240.18 L439.69 239.00 L440.51 237.82 L441.33 236.64 L442.16 235.46 L442.98 234.28 L443.80 233.11 L444.62 231.93 L445.44 230.75 L446.26 229.57 L447.08 228.39 L442.59 225.26 L441.77 226.44 L440.95 227.62 L440.13 228.80 L439.31 229.98 L438.48 231.15 L437.66 232.33 L436.84 233.51 L436.02 234.69 L435.20 235.87 L434.38 237.05 L433.56 238.22 L432.73 239.40 L431.91 240.58 L431.09 241.76Z M448.57 226.26 L449.36 225.13 L450.15 224.00 L450.95 222.88 L451.74 221.75 L452.53 220.62 L453.32 219.49 L454.11 218.37 L454.91 217.24 L450.43 214.08 L449.64 215.21 L448.84 216.34 L448.05 217.47 L447.25 218.60 L446.46 219.73 L445.67 220.86 L444.88 221.99 L444.09 223.12Z M456.40 215.14 L457.23 213.97 L458.06 212.80 L458.89 211.63 L459.72 210.46 L460.56 209.29 L461.40 208.13 L462.23 206.96 L463.07 205.80 L463.91 204.63 L464.75 203.47 L465.59 202.31 L466.44 201.15 L467.28 199.99 L468.13 198.83 L463.70 195.59 L462.85 196.76 L462.00 197.92 L461.15 199.09 L460.31 200.25 L459.46 201.42 L458.62 202.59 L457.78 203.76 L456.94 204.93 L456.10 206.10 L455.26 207.27 L454.43 208.45 L453.59 209.62 L452.76 210.79 L451.93 211.97Z M469.62 196.79 L470.44 195.68 L471.26 194.57 L472.08 193.46 L472.90 192.35 L473.73 191.24 L474.55 190.13 L475.38 189.02 L476.20 187.92 L471.81 184.62 L470.98 185.73 L470.15 186.85 L469.32 187.96 L468.49 189.08 L467.66 190.19 L466.84 191.31 L466.02 192.42 L465.20 193.54Z M477.70 185.93 L478.57 184.78 L479.43 183.64 L480.30 182.49 L481.17 181.35 L482.04 180.21 L482.92 179.07 L483.79 177.93 L484.67 176.80 L485.55 175.66 L486.43 174.53 L487.31 173.40 L488.19 172.27 L489.08 171.14 L489.97 170.01 L485.65 166.60 L484.75 167.74 L483.86 168.87 L482.97 170.01 L482.08 171.15 L481.20 172.29 L480.31 173.43 L479.43 174.58 L478.55 175.72 L477.68 176.87 L476.80 178.02 L475.93 179.17 L475.05 180.32 L474.18 181.47 L473.31 182.62Z M491.47 168.11 L492.34 167.03 L493.20 165.95 L494.07 164.87 L494.94 163.79 L495.82 162.71 L496.69 161.64 L497.57 160.57 L498.45 159.50 L494.20 155.99 L493.31 157.07 L492.43 158.15 L491.54 159.24 L490.66 160.32 L489.78 161.41 L488.91 162.50 L488.03 163.59 L487.16 164.68Z M499.97 157.67 L500.89 156.57 L501.81 155.47 L502.74 154.38 L503.67 153.29 L504.60 152.20 L505.53 151.11 L506.47 150.03 L507.41 148.95 L508.36 147.87 L509.31 146.80 L510.26 145.73 L511.21 144.66 L512.17 143.60 L513.13 142.54 L509.05 138.82 L508.07 139.89 L507.10 140.97 L506.14 142.05 L505.17 143.14 L504.21 144.23 L503.26 145.32 L502.30 146.41 L501.35 147.51 L500.41 148.61 L499.47 149.71 L498.53 150.81 L497.59 151.92 L496.66 153.03 L495.73 154.14Z M514.69 140.84 L515.63 139.82 L516.58 138.80 L517.53 137.79 L518.48 136.77 L519.44 135.77 L520.39 134.76 L521.36 133.76 L522.32 132.76 L518.35 128.91 L517.37 129.92 L516.40 130.94 L515.43 131.96 L514.46 132.98 L513.50 134.00 L512.53 135.03 L511.58 136.06 L510.62 137.10Z M523.92 131.12 L524.91 130.12 L525.90 129.11 L526.90 128.11 L527.90 127.11 L528.91 126.12 L529.92 125.12 L530.93 124.14 L531.94 123.15 L532.96 122.17 L533.98 121.19 L535.01 120.22 L536.04 119.25 L537.07 118.28 L538.10 117.32 L534.34 113.26 L533.29 114.24 L532.25 115.22 L531.21 116.20 L530.17 117.19 L529.13 118.18 L528.10 119.18 L527.07 120.17 L526.05 121.17 L525.02 122.18 L524.01 123.19 L522.99 124.20 L521.98 125.21 L520.97 126.23 L519.97 127.25Z M539.73 115.81 L540.74 114.89 L541.75 113.97 L542.77 113.05 L543.79 112.13 L544.81 111.22 L545.83 110.32 L546.86 109.41 L547.89 108.51 L544.26 104.35 L543.22 105.26 L542.18 106.18 L541.14 107.09 L540.10 108.02 L539.07 108.94 L538.04 109.87 L537.02 110.80 L536.00 111.74Z M549.59 107.04 L550.66 106.12 L551.73 105.21 L552.80 104.30 L553.87 103.40 L554.95 102.49 L556.03 101.60 L557.12 100.70 L558.21 99.81 L559.30 98.93 L560.39 98.04 L561.49 97.17 L562.59 96.29 L563.69 95.42 L564.80 94.56 L561.42 90.21 L560.29 91.09 L559.17 91.97 L558.05 92.86 L556.94 93.75 L555.83 94.64 L554.72 95.54 L553.62 96.44 L552.52 97.35 L551.42 98.26 L550.33 99.17 L549.24 100.08 L548.15 101.00 L547.07 101.93 L545.99 102.86Z M566.65 93.12 L567.73 92.30 L568.80 91.48 L569.88 90.67 L570.96 89.86 L572.04 89.05 L573.13 88.25 L574.22 87.45 L575.31 86.66 L572.11 82.21 L571.00 83.02 L569.89 83.82 L568.78 84.63 L567.68 85.45 L566.58 86.27 L565.49 87.10 L564.39 87.92 L563.30 88.76Z M577.31 85.24 L578.44 84.44 L579.58 83.64 L580.73 82.85 L581.87 82.06 L583.03 81.28 L584.18 80.50 L585.34 79.73 L586.50 78.97 L587.67 78.21 L588.83 77.46 L590.01 76.71 L591.18 75.97 L592.36 75.24 L593.55 74.52 L590.73 69.87 L589.52 70.61 L588.31 71.35 L587.11 72.11 L585.91 72.86 L584.71 73.63 L583.52 74.40 L582.33 75.17 L581.15 75.96 L579.97 76.74 L578.80 77.54 L577.63 78.34 L576.46 79.14 L575.30 79.95 L574.14 80.77Z M595.89 73.11 L597.02 72.45 L598.14 71.79 L599.28 71.14 L600.41 70.50 L601.55 69.86 L602.70 69.23 L603.85 68.61 L605.00 67.99 L602.48 63.23 L601.30 63.86 L600.12 64.50 L598.95 65.14 L597.78 65.78 L596.61 66.44 L595.45 67.10 L594.29 67.77 L593.13 68.44Z M607.64 66.59 L608.96 65.91 L610.28 65.22 L611.61 64.53 L612.94 63.85 L614.26 63.17 L615.59 62.49 L616.91 61.81 L618.23 61.15 L619.56 60.49 L620.89 59.84 L622.21 59.20 L623.55 58.57 L624.89 57.95 L622.69 53.10 L621.31 53.73 L619.93 54.37 L618.56 55.02 L617.20 55.68 L615.84 56.35 L614.49 57.03 L613.15 57.71 L611.81 58.39 L610.48 59.07 L609.15 59.76 L607.81 60.45 L606.48 61.14 L605.15 61.83Z M627.89 56.61 L629.21 56.03 L630.54 55.46 L631.88 54.90 L633.22 54.35 L634.56 53.81 L635.90 53.27 L637.25 52.74 L635.35 47.83 L633.98 48.37 L632.60 48.91 L631.23 49.46 L629.86 50.02 L628.49 50.58 L627.13 51.16 L625.77 51.74Z M640.60 51.46 L641.99 50.94 L643.37 50.43 L644.76 49.92 L646.15 49.42 L647.54 48.93 L648.94 48.44 L650.33 47.95 L651.73 47.48 L653.13 47.00 L654.53 46.54 L655.94 46.07 L657.34 45.62 L658.75 45.17 L657.18 40.22 L655.75 40.67 L654.33 41.13 L652.90 41.59 L651.48 42.06 L650.06 42.54 L648.64 43.02 L647.22 43.50 L645.81 44.00 L644.39 44.49 L642.98 45.00 L641.57 45.51 L640.17 46.02 L638.76 46.54Z M662.49 44.00 L663.85 43.59 L665.20 43.18 L666.56 42.78 L667.92 42.38 L669.28 41.99 L670.64 41.60 L672.01 41.21 L670.63 36.25 L669.25 36.63 L667.87 37.02 L666.49 37.42 L665.11 37.82 L663.73 38.22 L662.35 38.63 L660.98 39.04Z M675.97 40.14 L677.39 39.76 L678.83 39.38 L680.26 39.01 L681.69 38.65 L683.13 38.29 L684.57 37.94 L686.00 37.59 L687.44 37.25 L688.89 36.91 L690.33 36.58 L691.77 36.25 L693.22 35.93 L694.66 35.61 L693.58 30.64 L692.12 30.96 L690.66 31.28 L689.20 31.61 L687.74 31.94 L686.28 32.28 L684.82 32.62 L683.36 32.97 L681.91 33.32 L680.45 33.68 L679.00 34.04 L677.55 34.41 L676.09 34.79 L674.64 35.17Z M698.93 34.70 L700.30 34.42 L701.68 34.14 L703.05 33.87 L704.42 33.60 L705.80 33.33 L707.18 33.06 L708.55 32.80 L707.63 27.83 L706.23 28.09 L704.84 28.35 L703.45 28.62 L702.07 28.89 L700.68 29.17 L699.29 29.45 L697.90 29.73Z M712.97 32.00 L714.43 31.74 L715.90 31.48 L717.37 31.23 L718.84 30.98 L720.31 30.73 L721.78 30.49 L723.25 30.26 L724.72 30.02 L726.19 29.79 L727.66 29.56 L729.14 29.34 L730.61 29.12 L732.09 28.90 L731.36 23.93 L729.87 24.15 L728.39 24.37 L726.90 24.59 L725.42 24.82 L723.94 25.05 L722.45 25.28 L720.97 25.52 L719.49 25.76 L718.01 26.01 L716.52 26.26 L715.04 26.51 L713.56 26.76 L712.08 27.02Z M736.67 28.24 L738.06 28.05 L739.45 27.86 L740.83 27.67 L742.22 27.49 L743.61 27.30 L744.99 27.12 L746.38 26.94 L745.75 21.98 L744.35 22.16 L742.96 22.34 L741.56 22.52 L740.17 22.70 L738.77 22.89 L737.38 23.08 L735.98 23.27Z M751.04 26.36 L752.42 26.19 L753.80 26.02 L755.19 25.86 L756.57 25.70 L757.95 25.53 L759.33 25.38 L760.72 25.22 L762.10 25.06 L763.48 24.91 L764.87 24.75 L766.25 24.60 L767.64 24.45 L769.02 24.30 L770.41 24.16 L769.88 19.20 L768.49 19.34 L767.10 19.49 L765.71 19.64 L764.32 19.79 L762.93 19.95 L761.55 20.10 L760.16 20.26 L758.77 20.41 L757.38 20.57 L755.99 20.73 L754.60 20.90 L753.21 21.06 L751.82 21.23 L750.43 21.39Z"/>
<rect x="463.0" y="242.3" width="293.20" height="118.70" fill="#ffffff" stroke="#303030" stroke-width="1.5"/>
<path class="c" stroke="#ff0000" stroke-dasharray="19.72 19.72" d="M472.6 260.2 H545.9"/>
<path class="c" stroke="#000000" stroke-dasharray="4.93 4.93" d="M472.6 287.6 H545.9"/>
<path class="c" stroke="#0000ff" d="M472.6 315.5 H545.9"/>
<path class="c" stroke="#000000" stroke-dasharray="19.72 4.93 9.86 4.93" d="M472.6 342.9 H545.9"/>
<g filter="url(#noop)">
<text class="s" font-size="22.2px" x="553.00" y="265.85" textLength="36.33" lengthAdjust="spacingAndGlyphs">MR</text>
<text class="s" font-size="22.2px" x="553.12" y="293.25" textLength="35.21" lengthAdjust="spacingAndGlyphs">MR</text>
<text class="s" font-size="22.2px" x="597.16" y="293.25" textLength="73.26" lengthAdjust="spacingAndGlyphs">(Perfect</text>
<text class="s" font-size="22.2px" x="679.77" y="293.25" textLength="43.96" lengthAdjust="spacingAndGlyphs">CSI)</text>
<text class="s" font-size="22.2px" x="552.32" y="321.15" textLength="58.31" lengthAdjust="spacingAndGlyphs">SLNR</text>
<text class="s" font-size="22.2px" x="552.33" y="348.55" textLength="58.00" lengthAdjust="spacingAndGlyphs">SLNR</text>
<text class="s" font-size="22.2px" x="619.86" y="348.55" textLength="73.16" lengthAdjust="spacingAndGlyphs">(Perfect</text>
<text class="s" font-size="22.2px" x="701.76" y="348.55" textLength="44.48" lengthAdjust="spacingAndGlyphs">CSI)</text>
</g>
</svg>
</div></body></html>
